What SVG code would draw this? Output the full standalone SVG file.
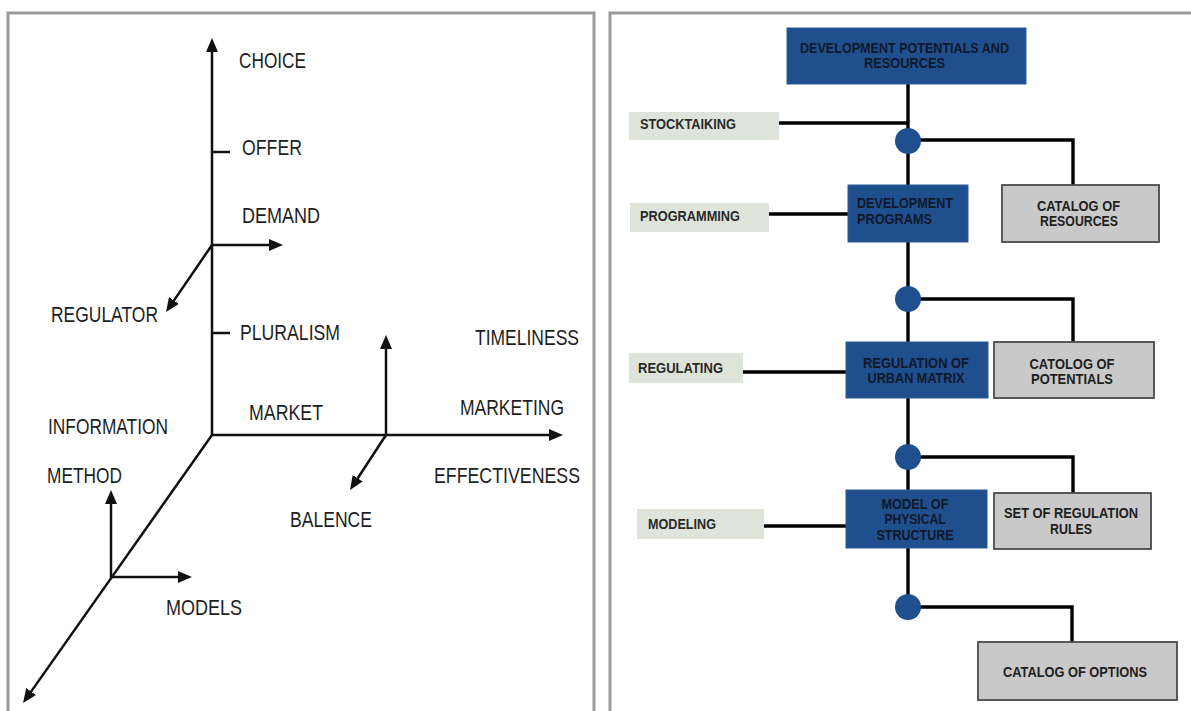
<svg xmlns="http://www.w3.org/2000/svg" width="1191" height="711" viewBox="0 0 1191 711">
<defs>
<marker id="ah" viewBox="0 0 14 12" refX="8" refY="6" markerWidth="14" markerHeight="12" markerUnits="userSpaceOnUse" orient="auto">
<path d="M0,0 L14,6 L0,12 z" fill="#111"/>
</marker>
<style>
.panel{fill:#fff;stroke:#9a9a9a;stroke-width:3}
.ax{stroke:#111;stroke-width:2.5;fill:none}
.lbl{font-family:"Liberation Sans",Arial,sans-serif;font-size:22px;fill:#1e1e1e}
.con{stroke:#000;stroke-width:3.4;fill:none}
.blue{fill:#1f4f8d;stroke:#2a5a96;stroke-width:1}
.gray{fill:#c9c9c9;stroke:#4a4a4a;stroke-width:1.8}
.sage{fill:#dee4da}
.dot{fill:#1f4f8d}
.bt{font-family:"Liberation Sans",Arial,sans-serif;font-weight:bold;font-size:15px;fill:#10182b}
.gt{font-family:"Liberation Sans",Arial,sans-serif;font-weight:bold;font-size:15px;fill:#1e1e1e}
.st{font-family:"Liberation Sans",Arial,sans-serif;font-weight:bold;font-size:15px;fill:#2a2a2a}
</style>
</defs>
<rect width="1191" height="711" fill="#fff"/>
<rect class="panel" x="8" y="13" width="586" height="710"/>
<rect class="panel" x="610" y="13" width="590" height="710"/>

<g id="left-axes">
<line class="ax" x1="212" y1="435" x2="212" y2="44" marker-end="url(#ah)"/>
<line class="ax" x1="212" y1="245" x2="277" y2="245" marker-end="url(#ah)"/>
<line class="ax" x1="212" y1="245" x2="169.4" y2="307.1" marker-end="url(#ah)"/>
<line class="ax" x1="212" y1="152" x2="230" y2="152"/>
<line class="ax" x1="212" y1="333" x2="230" y2="333"/>
<line class="ax" x1="211" y1="435" x2="557" y2="435" marker-end="url(#ah)"/>
<line class="ax" x1="386" y1="435" x2="386" y2="341" marker-end="url(#ah)"/>
<line class="ax" x1="386" y1="435" x2="353.3" y2="485" marker-end="url(#ah)"/>
<line class="ax" x1="212" y1="435" x2="26.5" y2="698.1" marker-end="url(#ah)"/>
<line class="ax" x1="111" y1="578" x2="111" y2="496" marker-end="url(#ah)"/>
<line class="ax" x1="111" y1="577" x2="186" y2="577" marker-end="url(#ah)"/>
</g>
<g id="left-labels">
<text class="lbl" x="239" y="68" textLength="67" lengthAdjust="spacingAndGlyphs">CHOICE</text>
<text class="lbl" x="242" y="155" textLength="60" lengthAdjust="spacingAndGlyphs">OFFER</text>
<text class="lbl" x="242" y="223" textLength="78" lengthAdjust="spacingAndGlyphs">DEMAND</text>
<text class="lbl" x="51" y="322" textLength="107" lengthAdjust="spacingAndGlyphs">REGULATOR</text>
<text class="lbl" x="240" y="340" textLength="100" lengthAdjust="spacingAndGlyphs">PLURALISM</text>
<text class="lbl" x="475" y="345" textLength="104" lengthAdjust="spacingAndGlyphs">TIMELINESS</text>
<text class="lbl" x="249" y="420" textLength="74" lengthAdjust="spacingAndGlyphs">MARKET</text>
<text class="lbl" x="460" y="415" textLength="104" lengthAdjust="spacingAndGlyphs">MARKETING</text>
<text class="lbl" x="48" y="434" textLength="120" lengthAdjust="spacingAndGlyphs">INFORMATION</text>
<text class="lbl" x="47" y="483" textLength="75" lengthAdjust="spacingAndGlyphs">METHOD</text>
<text class="lbl" x="434" y="483" textLength="146" lengthAdjust="spacingAndGlyphs">EFFECTIVENESS</text>
<text class="lbl" x="290" y="527" textLength="82" lengthAdjust="spacingAndGlyphs">BALENCE</text>
<text class="lbl" x="166" y="615" textLength="76" lengthAdjust="spacingAndGlyphs">MODELS</text>
</g>

<g id="connectors">
<path class="con" d="M908,84 V141"/>
<path class="con" d="M779,123 H908"/>
<path class="con" d="M908,140 H1073 V185"/>
<path class="con" d="M908,141 V185"/>
<path class="con" d="M769,214 H848"/>
<path class="con" d="M908,242 V299"/>
<path class="con" d="M908,299 H1073 V342"/>
<path class="con" d="M908,299 V342"/>
<path class="con" d="M743,372 H846"/>
<path class="con" d="M908,398 V457"/>
<path class="con" d="M908,457 H1073 V493"/>
<path class="con" d="M908,457 V490"/>
<path class="con" d="M764,526 H846"/>
<path class="con" d="M908,548 V607"/>
<path class="con" d="M908,607 H1072 V642"/>
</g>

<g id="n-devpot"><rect class="blue" x="787" y="28" width="239" height="56"/>
<text class="bt" x="800" y="53" textLength="209" lengthAdjust="spacingAndGlyphs">DEVELOPMENT POTENTIALS AND</text>
<text class="bt" x="864" y="68" textLength="81" lengthAdjust="spacingAndGlyphs">RESOURCES</text></g>
<g id="n-stock"><rect class="sage" x="629" y="112" width="150" height="28"/>
<text class="st" x="640" y="129" textLength="96" lengthAdjust="spacingAndGlyphs">STOCKTAIKING</text></g>
<g id="j1"><circle class="dot" cx="908" cy="141" r="13"/></g>
<g id="n-prog"><rect class="sage" x="630" y="203" width="139" height="29"/>
<text class="st" x="640" y="221" textLength="100" lengthAdjust="spacingAndGlyphs">PROGRAMMING</text></g>
<g id="n-devprog"><rect class="blue" x="848" y="185" width="120" height="57"/>
<text class="bt" x="857" y="208" font-size="14" textLength="96" lengthAdjust="spacingAndGlyphs">DEVELOPMENT</text>
<text class="bt" x="857" y="224" font-size="14" textLength="75" lengthAdjust="spacingAndGlyphs">PROGRAMS</text></g>
<g id="n-catres"><rect class="gray" x="1002" y="185" width="157" height="57"/>
<text class="gt" x="1037" y="211" textLength="83" lengthAdjust="spacingAndGlyphs">CATALOG OF</text>
<text class="gt" x="1040" y="226" textLength="78" lengthAdjust="spacingAndGlyphs">RESOURCES</text></g>
<g id="j2"><circle class="dot" cx="908" cy="299" r="13"/></g>
<g id="n-reging"><rect class="sage" x="629" y="353" width="114" height="30"/>
<text class="st" x="638" y="373" textLength="85" lengthAdjust="spacingAndGlyphs">REGULATING</text></g>
<g id="n-regurb"><rect class="blue" x="846" y="342" width="142" height="56"/>
<text class="bt" x="916" y="368" text-anchor="middle" textLength="106" lengthAdjust="spacingAndGlyphs">REGULATION OF</text>
<text class="bt" x="916" y="383" text-anchor="middle" textLength="97" lengthAdjust="spacingAndGlyphs">URBAN MATRIX</text></g>
<g id="n-catpot"><rect class="gray" x="994" y="342" width="160" height="56"/>
<text class="gt" x="1072" y="369" text-anchor="middle" textLength="85" lengthAdjust="spacingAndGlyphs">CATOLOG OF</text>
<text class="gt" x="1072" y="384" text-anchor="middle" textLength="82" lengthAdjust="spacingAndGlyphs">POTENTIALS</text></g>
<g id="j3"><circle class="dot" cx="908" cy="457" r="13"/></g>
<g id="n-modeling"><rect class="sage" x="637" y="509" width="127" height="30"/>
<text class="st" x="648" y="529" textLength="68" lengthAdjust="spacingAndGlyphs">MODELING</text></g>
<g id="n-model"><rect class="blue" x="846" y="490" width="141" height="58"/>
<text class="bt" x="915" y="509" text-anchor="middle" textLength="67" lengthAdjust="spacingAndGlyphs">MODEL OF</text>
<text class="bt" x="915" y="524" text-anchor="middle" textLength="61" lengthAdjust="spacingAndGlyphs">PHYSICAL</text>
<text class="bt" x="915" y="540" text-anchor="middle" textLength="77" lengthAdjust="spacingAndGlyphs">STRUCTURE</text></g>
<g id="n-setrules"><rect class="gray" x="994" y="493" width="157" height="56"/>
<text class="gt" x="1071" y="518" text-anchor="middle" textLength="134" lengthAdjust="spacingAndGlyphs">SET OF REGULATION</text>
<text class="gt" x="1071" y="534" text-anchor="middle" textLength="42" lengthAdjust="spacingAndGlyphs">RULES</text></g>
<g id="j4"><circle class="dot" cx="908" cy="607" r="13"/></g>
<g id="n-catopt"><rect class="gray" x="978" y="642" width="199" height="58"/>
<text class="gt" x="1075" y="677" text-anchor="middle" textLength="144" lengthAdjust="spacingAndGlyphs">CATALOG OF OPTIONS</text></g>
</svg>
